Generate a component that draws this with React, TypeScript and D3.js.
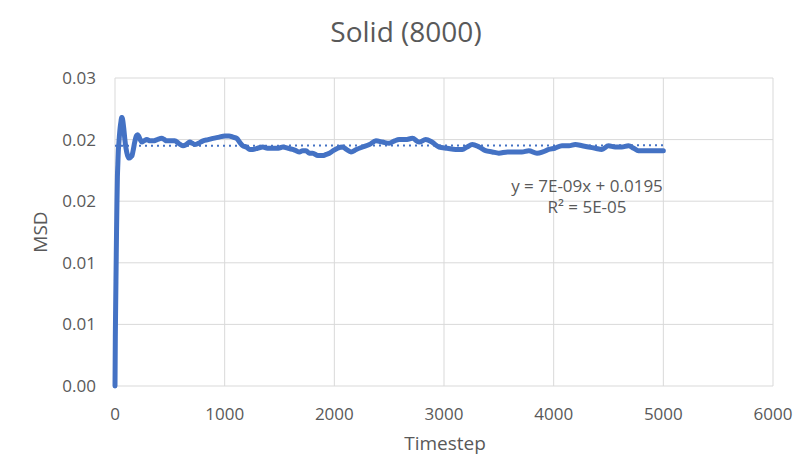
import React from "react";
import * as d3 from "d3";

const timesteps = [0,3,6,10,14,18,22,26,30,35,40,45,50,55,60,65,70,80,90,100,115,130,145,155,165,180,195,205,215,230,245,265,290,320,350,385,425,450,470,500,545,580,620,650,682,705,727,760,803,850,894,950,1000,1040,1076,1110,1136,1165,1197,1230,1257,1300,1348,1390,1439,1490,1530,1580,1620,1650,1682,1710,1742,1770,1803,1850,1894,1925,1955,1990,2030,2076,2110,2152,2200,2258,2320,2379,2440,2500,2550,2591,2650,2712,2773,2833,2890,2955,3030,3106,3167,3210,3258,3320,3379,3440,3500,3580,3652,3710,3773,3848,3900,3955,4010,4076,4140,4197,4260,4318,4380,4439,4500,4560,4621,4682,4730,4773,4850,4900,4955,5000];

const msd = [0,0.004,0.0065,0.0095,0.0125,0.015,0.017,0.018,0.019,0.0197,0.0203,0.0208,0.0212,0.0215,0.0218,0.0218,0.0216,0.0209,0.02,0.0193,0.0187,0.0185,0.0186,0.0187,0.0191,0.0198,0.0203,0.0204,0.0203,0.02,0.0198,0.0199,0.02,0.0199,0.0199,0.02,0.0201,0.02,0.0199,0.0199,0.0199,0.0197,0.0195,0.0196,0.0198,0.0197,0.0196,0.0197,0.0199,0.02,0.0201,0.0202,0.0203,0.0203,0.0202,0.0201,0.0198,0.0195,0.0194,0.0192,0.0192,0.0193,0.0194,0.0193,0.0193,0.0193,0.0194,0.0193,0.0192,0.0191,0.019,0.0191,0.0191,0.0189,0.0189,0.0187,0.0187,0.0188,0.0189,0.0191,0.0193,0.0194,0.0192,0.019,0.0192,0.0194,0.0196,0.0199,0.0198,0.0197,0.0199,0.02,0.02,0.0201,0.0198,0.02,0.0198,0.0194,0.0193,0.0192,0.0192,0.0194,0.0196,0.0194,0.0191,0.019,0.0189,0.019,0.019,0.019,0.0191,0.0189,0.019,0.0192,0.0193,0.0195,0.0195,0.0196,0.0195,0.0194,0.0193,0.0192,0.0195,0.0194,0.0194,0.0195,0.0193,0.0191,0.0191,0.0191,0.0191,0.0191];

const xTicks = [0,1000,2000,3000,4000,5000,6000];
const yTicks = [0,0.005,0.01,0.015,0.02,0.025];
const yTickLabels = ["0.00","0.01","0.01","0.02","0.02","0.03"];
const trendSlope = 7e-9;
const trendIntercept = 0.0195;
const trendRange = [0, 5000];
const title = "Solid (8000)";
const xLabel = "Timestep";
const yLabel = "MSD";
const eqLines = ["y = 7E-09x + 0.0195", "R² = 5E-05"];

const W = 800, H = 467;
const left = 115, right = 773, top = 78, bottom = 386;
const FONT = "'Open Sans', 'Noto Sans', sans-serif";
const TEXT = "#595959";
const GRID = "#d9d9d9";
const BLUE = "#4472c4";

export default function App() {
  const x = d3.scaleLinear().domain([0, 6000]).range([left, right]);
  const y = d3.scaleLinear().domain([0, 0.025]).range([bottom, top]);
  const pts = timesteps.map((t, i) => [t, msd[i]] as [number, number]);
  const line = d3.line<[number, number]>().x(d => x(d[0])).y(d => y(d[1])).curve(d3.curveMonotoneX);
  const trend = trendRange.map(t => [t, trendSlope * t + trendIntercept] as [number, number]);
  const trendLine = d3.line<[number, number]>().x(d => x(d[0])).y(d => y(d[1]));
  return (
    <svg width={W} height={H} style={{ position: "absolute", left: 0, top: 0, background: "#fff" }} fontFamily={FONT}>
      <rect width={W} height={H} fill="#fff" />
      {yTicks.map(v => (
        <line key={"gy" + v} x1={left} x2={right} y1={y(v)} y2={y(v)} stroke={GRID} strokeWidth={1} />
      ))}
      {xTicks.map(v => (
        <line key={"gx" + v} x1={x(v)} x2={x(v)} y1={top} y2={bottom} stroke={GRID} strokeWidth={1} />
      ))}
      {yTicks.map((v, i) => (
        <text key={"ty" + v} x={96} y={y(v) + 6} textAnchor="end" fontSize={17} fill={TEXT}>{yTickLabels[i]}</text>
      ))}
      {xTicks.map(v => (
        <text key={"tx" + v} x={x(v)} y={420} textAnchor="middle" fontSize={17} fill={TEXT}>{v}</text>
      ))}
      <path d={trendLine(trend) || ""} fill="none" stroke={BLUE} strokeWidth={2} strokeDasharray="2 4" />
      <path d={line(pts) || ""} fill="none" stroke={BLUE} strokeWidth={5} strokeLinejoin="round" strokeLinecap="round" />
      <text x={406} y={42} textAnchor="middle" fontSize={28} fill={TEXT}>{title}</text>
      <text x={445} y={450} textAnchor="middle" fontSize={19} fill={TEXT}>{xLabel}</text>
      <text transform="translate(47,232) rotate(-90)" textAnchor="middle" fontSize={19} fill={TEXT}>{yLabel}</text>
      <text x={587} y={192} textAnchor="middle" fontSize={17} fill={TEXT}>{eqLines[0]}</text>
      <text x={587} y={213} textAnchor="middle" fontSize={17} fill={TEXT}>{eqLines[1]}</text>
    </svg>
  );
}
